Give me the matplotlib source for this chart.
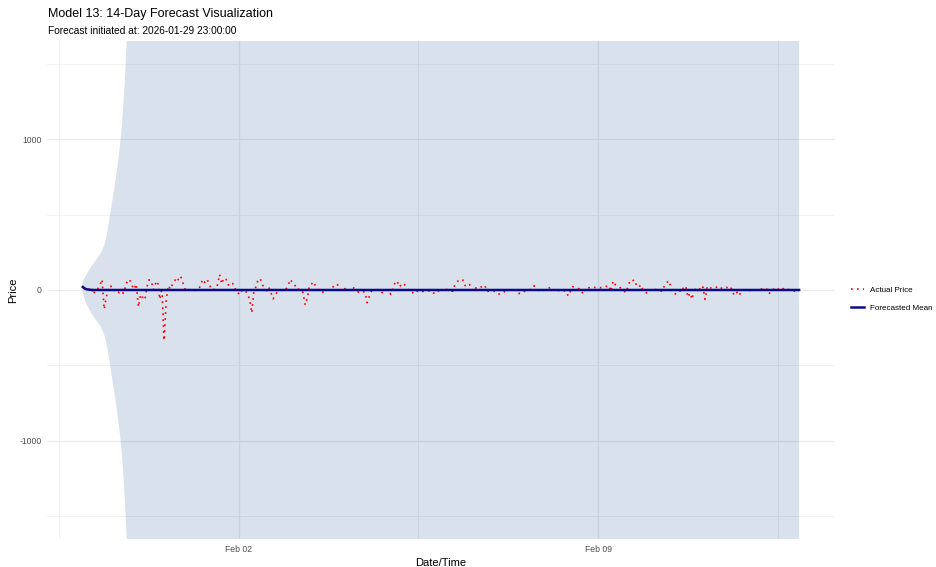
import matplotlib
matplotlib.use('Agg')
import matplotlib.pyplot as plt
import matplotlib.dates as mdates
from matplotlib.ticker import FixedLocator
import pandas as pd

# === 字體設定 (ggplot 風格) ===
plt.rcParams['font.family'] = ['Liberation Sans', 'DejaVu Sans']
plt.rcParams['axes.unicode_minus'] = False

# === 資料 ===
START = '2026-01-29 23:00:00'

# hourly actual price, one row per day
actual_price = [
    18, 8, 2, 5, 15, -29, 5, 8, 29, 70, -128, -45, 2, 31, -5, 2, -10, -18, -5, -22, 22, 68, 66, 29,
    5, 40, -112, -30, -50, -66, 20, 68, 60, 2, 42, 59, -62, 15, -335, -70, 29, 5, 40, 62, 84, 60, 84, 40,
    0, -8, 0, -10, -4, 0, 5, 26, 70, 50, 72, 46, 5, 2, 4, 35, 103, 40, 80, 70, 33, 48, 48, 8,
    5, -29, -5, -15, -5, -26, -60, -152, -10, 22, 70, 75, 37, 2, -5, 18, -18, -59, -35, -10, -8, 0, -3, 4,
    29, 70, 50, 40, 4, 5, 6, -18, -99, -55, 31, 40, 55, 20, 2, -5, -18, -5, -2, 0, 5, 20, 30, 40,
    0, 5, 15, 3, -10, 5, 20, 10, -3, -15, -8, -10, -15, -84, -42, -8, -3, 0, 2, -5, -18, -8, -2, 3,
    -29, 5, 50, 60, 20, 35, 45, 25, 5, -15, -15, -25, -10, -6, -3, -10, -5, -4, -6, -5, -20, -22, -4, -18,
    -5, 15, 5, -6, -5, -8, 35, 50, 70, 65, 64, 22, 30, 35, 5, -10, 18, 20, 18, 25, 33, -10, -8, -8,
    -6, -15, -26, -26, -15, -10, -18, -5, 6, 2, 0, -15, -24, -12, -8, -10, -5, 0, 10, 29, 5, -3, -4, -4,
    0, 5, 13, 20, 5, -13, -4, -3, -4, -6, -6, -40, -10, 22, 18, 15, 8, 4, -29, 10, 15, 15, 12, 18,
    15, 18, 15, 18, 18, 25, 31, -10, 59, 35, 31, 18, 10, -5, -18, 22, 64, 60, 68, 29, 18, 35, -3, -10,
    -26, -5, 4, 2, 3, 4, -4, -10, 29, 45, 62, 22, -24, -26, -22, -18, 18, 8, 26, -48, -20, -62, 20, -18,
    20, -4, 20, -62, 20, 26, 10, 10, 15, 24, 10, 13, 10, 18, 10, 20, -20, -37, -15, -37, -5, 0, -2, 0,
    -3, -3, -3, 0, 4, 5, 8, 13, 5, -26, 0, 4, 18, 8, -3, 5, 10, 13, 5, -6, -5, -8, -13, -10,
]

# forecasted mean: settles to ~0 after a few hours
forecast_mean = [20, 9, 4, 2, 1] + [0] * 331

# confidence ribbon half width (hours since start), blows up off the chart
ribbon_hours = [0, 1, 2, 3, 4, 5, 6, 7, 8, 9, 10, 11, 12, 13, 14, 15, 16, 17, 18, 19, 20, 21, 22, 23, 24, 335]
ribbon_half = [40, 75, 105, 130, 155, 175, 195, 215, 235, 260, 295, 350, 430, 520, 610, 700, 800, 910,
               1040, 1230, 1480, 1800, 2200, 2700, 3300, 100000]

y_ticks = [-1000, 0, 1000]
y_minor = [-1500, -500, 500, 1500]
x_ticks = ['2026-02-02', '2026-02-09']
x_minor = ['2026-01-29 12:00', '2026-02-05 12:00', '2026-02-12 12:00']

# === 畫圖 ===
times = pd.date_range(START, periods=len(actual_price), freq='h')
r_times = pd.Timestamp(START) + pd.to_timedelta(ribbon_hours, unit='h')
r_mean = [forecast_mean[min(h, len(forecast_mean) - 1)] for h in ribbon_hours]
r_low = [m - w for m, w in zip(r_mean, ribbon_half)]
r_high = [m + w for m, w in zip(r_mean, ribbon_half)]

fig = plt.figure(figsize=(9.36, 5.67), dpi=100)
ax = fig.add_axes([0.0502, 0.0494, 0.8418, 0.8783])

grid_c = '#EBEBEB'
ax.set_axisbelow(True)
for v in y_ticks:
    ax.axhline(v, color=grid_c, lw=0.9, zorder=0)
for v in y_minor:
    ax.axhline(v, color=grid_c, lw=0.5, zorder=0)
for d in x_ticks:
    ax.axvline(pd.Timestamp(d), color=grid_c, lw=0.9, zorder=0)
for d in x_minor:
    ax.axvline(pd.Timestamp(d), color=grid_c, lw=0.5, zorder=0)

ax.fill_between(r_times, r_low, r_high, color='#3C69A0', alpha=0.2, lw=0, zorder=1)
ax.plot(times, actual_price, color='red', lw=1.2, linestyle=(0, (1, 2.6)), zorder=2,
        label='Actual Price')
ax.plot(times, forecast_mean, color='#0B0B8A', lw=1.8, zorder=3, label='Forecasted Mean')

pad = pd.Timedelta(hours=(len(actual_price) - 1) * 0.05)
ax.set_xlim(times[0] - pad, times[-1] + pad)
ax.set_ylim(-1650, 1650)

ax.xaxis.set_major_locator(FixedLocator(mdates.date2num(pd.to_datetime(x_ticks))))
ax.xaxis.set_major_formatter(mdates.DateFormatter('%b %d'))
ax.set_yticks(y_ticks)
ax.tick_params(length=0, labelsize=6.2, labelcolor='#4D4D4D', pad=4)
for s in ax.spines.values():
    s.set_visible(False)

ax.set_xlabel('Date/Time', fontsize=8, labelpad=3)
fig.text(13 / 936, 1 - 290 / 567, 'Price', fontsize=8, rotation=90, ha='center', va='center')

fig.text(48 / 936, 1 - 14 / 567, 'Model 13: 14-Day Forecast Visualization', fontsize=9, va='center')
fig.text(48 / 936, 1 - 31 / 567, 'Forecast initiated at: 2026-01-29 23:00:00', fontsize=7.3, va='center')

fig.legend(loc='center left', bbox_to_anchor=(848 / 936, 1 - 299 / 567), frameon=False,
           fontsize=5.8, handlelength=1.6, handletextpad=0.7, labelspacing=1.3, borderaxespad=0)

fig.savefig('out.png', dpi=100)
plt.close(fig)
